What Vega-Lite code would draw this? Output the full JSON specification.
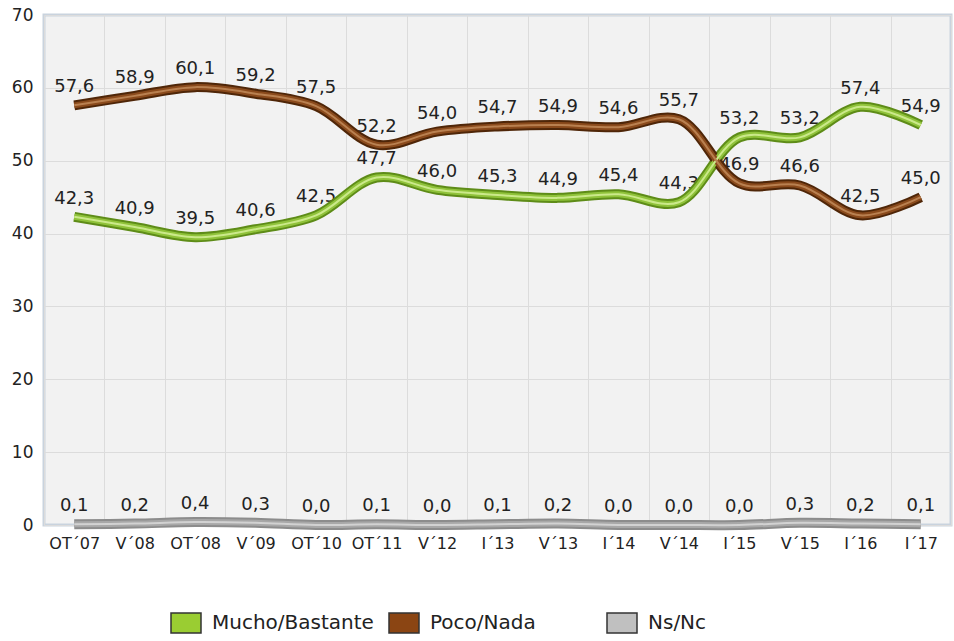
{
  "$schema": "https://vega.github.io/schema/vega-lite/v6.json",
  "width": 907,
  "height": 510,
  "autosize": {"type": "none"},
  "padding": {"left": 44, "top": 15, "right": 3, "bottom": 116},
  "background": "white",
  "config": {
    "locale": {"number": {"decimal": ",", "thousands": ".", "grouping": [3], "currency": ["", " €"]}},
    "view": {"fill": "#f2f2f2", "stroke": "#c9d3de", "strokeWidth": 3},
    "font": "DejaVu Sans"
  },
  "data": {
    "values": [
      {"periodo": "OT´07", "serie": "Mucho/Bastante", "valor": 42.3},
      {"periodo": "V´08", "serie": "Mucho/Bastante", "valor": 40.9},
      {"periodo": "OT´08", "serie": "Mucho/Bastante", "valor": 39.5},
      {"periodo": "V´09", "serie": "Mucho/Bastante", "valor": 40.6},
      {"periodo": "OT´10", "serie": "Mucho/Bastante", "valor": 42.5},
      {"periodo": "OT´11", "serie": "Mucho/Bastante", "valor": 47.7},
      {"periodo": "V´12", "serie": "Mucho/Bastante", "valor": 46.0},
      {"periodo": "I´13", "serie": "Mucho/Bastante", "valor": 45.3},
      {"periodo": "V´13", "serie": "Mucho/Bastante", "valor": 44.9},
      {"periodo": "I´14", "serie": "Mucho/Bastante", "valor": 45.4},
      {"periodo": "V´14", "serie": "Mucho/Bastante", "valor": 44.3},
      {"periodo": "I´15", "serie": "Mucho/Bastante", "valor": 53.2},
      {"periodo": "V´15", "serie": "Mucho/Bastante", "valor": 53.2},
      {"periodo": "I´16", "serie": "Mucho/Bastante", "valor": 57.4},
      {"periodo": "I´17", "serie": "Mucho/Bastante", "valor": 54.9},
      {"periodo": "OT´07", "serie": "Poco/Nada", "valor": 57.6},
      {"periodo": "V´08", "serie": "Poco/Nada", "valor": 58.9},
      {"periodo": "OT´08", "serie": "Poco/Nada", "valor": 60.1},
      {"periodo": "V´09", "serie": "Poco/Nada", "valor": 59.2},
      {"periodo": "OT´10", "serie": "Poco/Nada", "valor": 57.5},
      {"periodo": "OT´11", "serie": "Poco/Nada", "valor": 52.2},
      {"periodo": "V´12", "serie": "Poco/Nada", "valor": 54.0},
      {"periodo": "I´13", "serie": "Poco/Nada", "valor": 54.7},
      {"periodo": "V´13", "serie": "Poco/Nada", "valor": 54.9},
      {"periodo": "I´14", "serie": "Poco/Nada", "valor": 54.6},
      {"periodo": "V´14", "serie": "Poco/Nada", "valor": 55.7},
      {"periodo": "I´15", "serie": "Poco/Nada", "valor": 46.9},
      {"periodo": "V´15", "serie": "Poco/Nada", "valor": 46.6},
      {"periodo": "I´16", "serie": "Poco/Nada", "valor": 42.5},
      {"periodo": "I´17", "serie": "Poco/Nada", "valor": 45.0},
      {"periodo": "OT´07", "serie": "Ns/Nc", "valor": 0.1},
      {"periodo": "V´08", "serie": "Ns/Nc", "valor": 0.2},
      {"periodo": "OT´08", "serie": "Ns/Nc", "valor": 0.4},
      {"periodo": "V´09", "serie": "Ns/Nc", "valor": 0.3},
      {"periodo": "OT´10", "serie": "Ns/Nc", "valor": 0.0},
      {"periodo": "OT´11", "serie": "Ns/Nc", "valor": 0.1},
      {"periodo": "V´12", "serie": "Ns/Nc", "valor": 0.0},
      {"periodo": "I´13", "serie": "Ns/Nc", "valor": 0.1},
      {"periodo": "V´13", "serie": "Ns/Nc", "valor": 0.2},
      {"periodo": "I´14", "serie": "Ns/Nc", "valor": 0.0},
      {"periodo": "V´14", "serie": "Ns/Nc", "valor": 0.0},
      {"periodo": "I´15", "serie": "Ns/Nc", "valor": 0.0},
      {"periodo": "V´15", "serie": "Ns/Nc", "valor": 0.3},
      {"periodo": "I´16", "serie": "Ns/Nc", "valor": 0.2},
      {"periodo": "I´17", "serie": "Ns/Nc", "valor": 0.1}
    ]
  },
  "encoding": {
    "x": {
      "field": "periodo",
      "type": "ordinal",
      "sort": ["OT´07", "V´08", "OT´08", "V´09", "OT´10", "OT´11", "V´12", "I´13", "V´13", "I´14", "V´14", "I´15", "V´15", "I´16", "I´17"],
      "scale": {"type": "band", "paddingInner": 0, "paddingOuter": 0},
      "bandPosition": 0.5,
      "axis": {"title": null, "labelAngle": 0, "tickBand": "extent", "grid": true, "gridColor": "#dcdcdc", "ticks": false, "domain": false, "labelFontSize": 16, "labelColor": "#222222", "labelPadding": 10, "labelFont": "DejaVu Sans"}
    },
    "y": {
      "field": "valor",
      "type": "quantitative",
      "scale": {"domain": [0, 70], "nice": false},
      "axis": {"title": null, "values": [0, 10, 20, 30, 40, 50, 60, 70], "grid": true, "gridColor": "#dcdcdc", "ticks": false, "domain": false, "labelFontSize": 17, "labelColor": "#222222", "labelPadding": 11, "format": "d", "labelFont": "DejaVu Sans"}
    }
  },
  "layer": [
    {
      "mark": {"type": "text", "dy": -18, "fontSize": 18, "color": "#222222", "font": "DejaVu Sans"},
      "encoding": {"text": {"field": "valor", "type": "quantitative", "format": ".1f"}}
    },
    {
      "mark": {"type": "line", "interpolate": "catmull-rom", "strokeWidth": 10, "strokeCap": "butt"},
      "encoding": {
        "color": {"field": "serie", "type": "nominal", "legend": null,
          "scale": {"domain": ["Ns/Nc", "Poco/Nada", "Mucho/Bastante"], "range": ["#8c8c8c", "#4f2608", "#5e8c18"]}}
      }
    },
    {
      "mark": {"type": "line", "interpolate": "catmull-rom", "strokeWidth": 6, "strokeCap": "butt"},
      "encoding": {
        "color": {"field": "serie", "type": "nominal", "legend": null,
          "scale": {"domain": ["Ns/Nc", "Poco/Nada", "Mucho/Bastante"], "range": ["#a8a8a8", "#8a4a1c", "#8fc23a"]}}
      }
    },
    {
      "mark": {"type": "line", "interpolate": "catmull-rom", "strokeWidth": 2, "strokeCap": "butt"},
      "encoding": {
        "color": {"field": "serie", "type": "nominal", "legend": null,
          "scale": {"domain": ["Ns/Nc", "Poco/Nada", "Mucho/Bastante"], "range": ["#d2d2d2", "#b98050", "#cbe98a"]}}
      }
    },
    {
      "mark": {"type": "point", "shape": "square", "filled": true, "opacity": 0},
      "encoding": {
        "color": {"field": "serie", "type": "nominal",
          "scale": {"domain": ["Mucho/Bastante", "Poco/Nada", "Ns/Nc"], "range": ["#9acd32", "#8b4513", "#c0c0c0"]},
          "legend": {
            "title": null, "orient": "none", "legendX": 131, "legendY": 597,
            "direction": "horizontal", "columns": 3, "gridAlign": "all", "columnPadding": 12,
            "symbolType": "M-1.5,-1H1.5V1H-1.5Z", "symbolSize": 400, "symbolStrokeColor": "#333333", "symbolStrokeWidth": 1.5,
            "symbolOpacity": 1, "labelFontSize": 20, "labelColor": "#222222", "labelFont": "DejaVu Sans", "labelLimit": 300, "labelOffset": 15
          }
        }
      }
    }
  ],
  "resolve": {"scale": {"color": "independent"}}
}
